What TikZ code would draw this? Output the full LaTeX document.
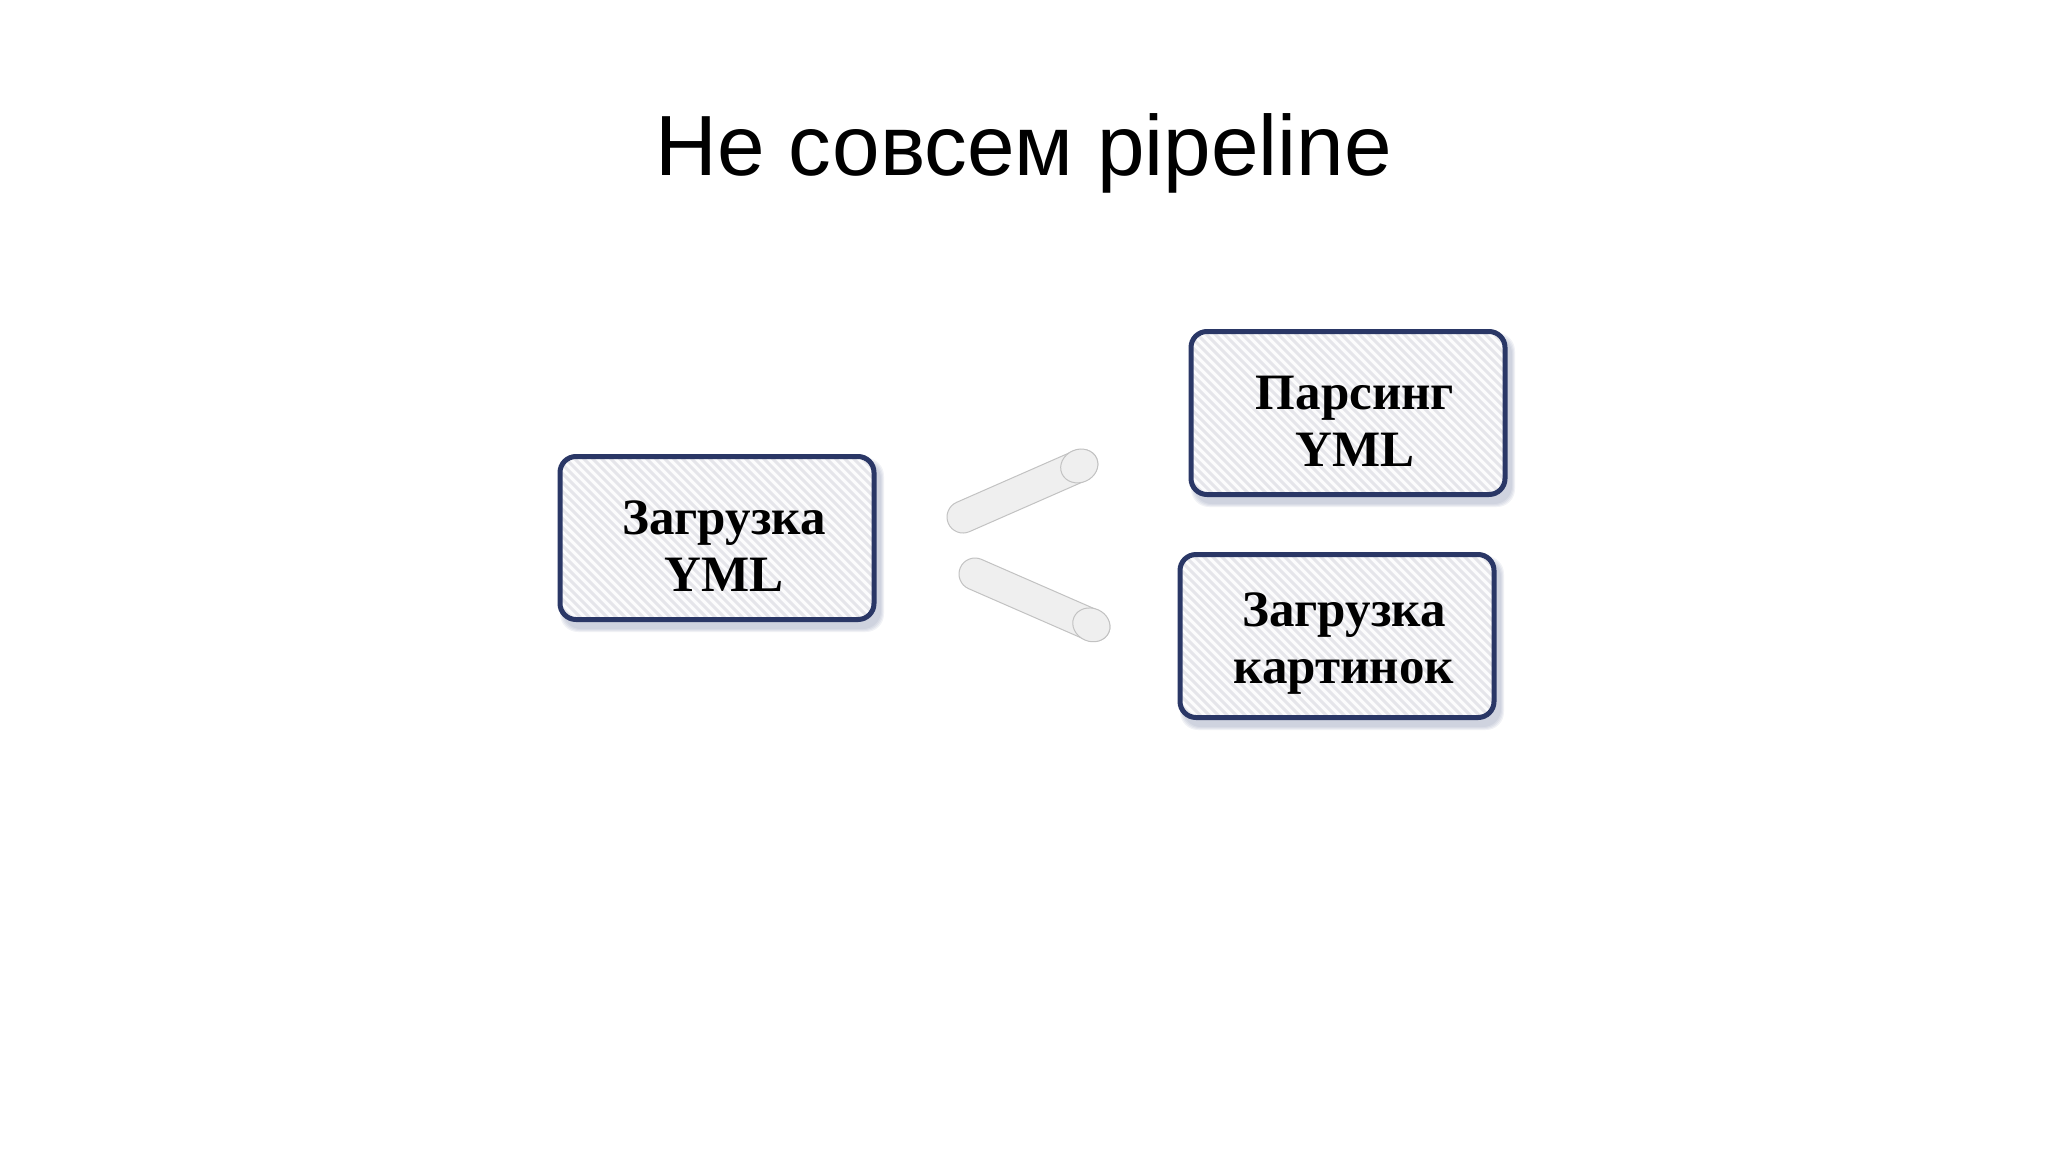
\documentclass[tikz,border=0pt]{standalone}
\usepackage{fontspec}
\setmainfont{Liberation Serif}
\newfontfamily\titlefont{Liberation Sans}
\usetikzlibrary{calc}
\definecolor{boxborder}{HTML}{2A3766}
\definecolor{boxfill}{HTML}{FCFCFD}
\definecolor{stripecol}{HTML}{E5E5EA}
\definecolor{shadowcol}{HTML}{7A86A8}
\definecolor{tubefill}{HTML}{EFEFEF}
\definecolor{tubeline}{HTML}{C2C2C2}
\tikzset{
  stepbox/.style={draw=boxborder, line width=5pt, rounded corners=16pt,
    fill=boxfill, minimum width=314pt, minimum height=163pt, inner sep=0pt,
    path picture={
      \foreach \i in {-504,-495,...,504}{
        \draw[stripecol, line width=3pt]
          ([xshift=\i pt]path picture bounding box.center) ++(-220pt,220pt) -- ++(440pt,-440pt);
      }
    }},
  steptext/.style={align=center, inner sep=0pt, font=\bfseries\fontsize{51}{57}\selectfont},
  shadowlayer/.style={fill=shadowcol, fill opacity=0.10, draw=none},
  tube/.style={fill=tubefill, draw=tubeline, line width=1pt},
  titletext/.style={font=\titlefont\fontsize{85.5}{100}\selectfont, anchor=base, inner sep=0pt}
}
\newcommand\boxshadow[2]{%
  \foreach \s in {0,2,4,6}{
    \fill[shadowlayer, rounded corners=18pt]
      ($(#1,#2)+(-159+5-\s/2,-84+7-\s/2)$) rectangle ($(#1,#2)+(159+5+\s/2,84+7+\s/2)$);
  }}
\newcommand\tubeshape[4]{% x y angle length
  \begin{scope}[shift={(#1,#2)}, rotate=#3, y=1pt]
    \draw[tube] (0,16) -- (#4,16) arc[start angle=90, end angle=-90, x radius=19pt, y radius=16pt]
      -- (0,-16) arc[start angle=270, end angle=90, x radius=16pt, y radius=16pt] -- cycle;
    \draw[tube] (#4,0) ellipse[x radius=19pt, y radius=16.5pt];
  \end{scope}}
\begin{document}
\begin{tikzpicture}[x=1pt, y=-1pt]
  \useasboundingbox (0,0) rectangle (2048,1152);
  \fill[white] (0,0) rectangle (2048,1152);
  \node[titletext] (title) at (1024,175) {Не совсем pipeline};

  \boxshadow{717}{538}
  \boxshadow{1348}{413}
  \boxshadow{1337}{636}

  \node[stepbox] (load) at (717,538) {};
  \node[stepbox] (parse) at (1348,413) {};
  \node[stepbox] (images) at (1337,636) {};

  \node[steptext] (loadtext) at ($(load.center)+(7,8)$) {Загрузка\\YML};
  \node[steptext] (parsetext) at ($(parse.center)+(7,8)$) {Парсинг\\YML};
  \node[steptext] (imagestext) at ($(images.center)+(7,8)$) {Загрузка\\картинок};

  \tubeshape{963}{517}{23.7}{127}
  \tubeshape{975}{574}{-23.6}{127}
\end{tikzpicture}
\end{document}
